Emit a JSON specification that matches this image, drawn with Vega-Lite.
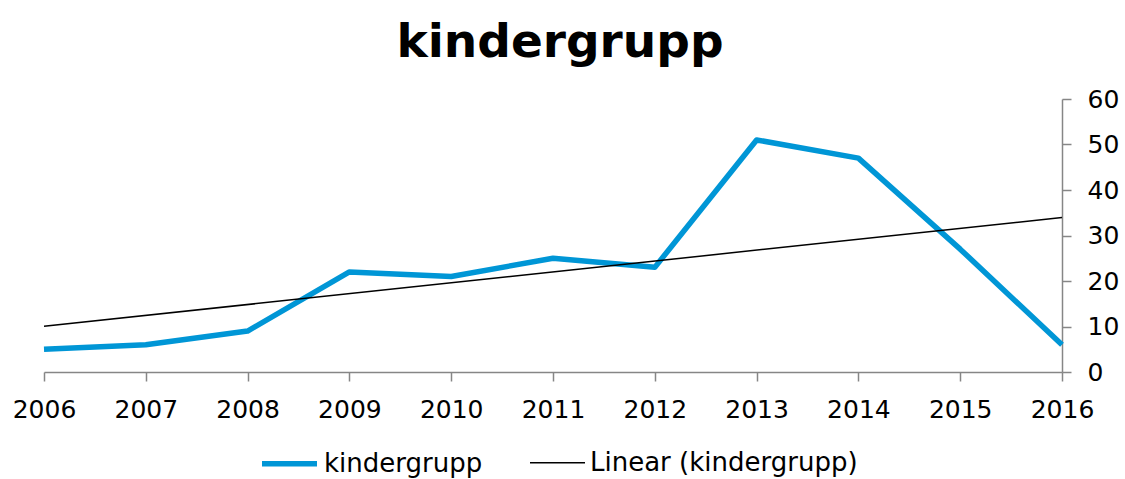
{
  "$schema": "https://vega.github.io/schema/vega-lite/v6.json",
  "width": 1018,
  "height": 273,
  "autosize": {"type": "none"},
  "padding": {"left": 44, "top": 99, "right": 63, "bottom": 107},
  "background": "white",
  "title": {
    "text": "kindergrupp",
    "font": "DejaVu Sans",
    "fontSize": 47,
    "fontWeight": "bold",
    "color": "#000000",
    "anchor": "middle",
    "dx": 7,
    "offset": 20
  },
  "data": {
    "values": [
      {"year": 2006, "value": 5, "series": "kindergrupp"},
      {"year": 2007, "value": 6, "series": "kindergrupp"},
      {"year": 2008, "value": 9, "series": "kindergrupp"},
      {"year": 2009, "value": 22, "series": "kindergrupp"},
      {"year": 2010, "value": 21, "series": "kindergrupp"},
      {"year": 2011, "value": 25, "series": "kindergrupp"},
      {"year": 2012, "value": 23, "series": "kindergrupp"},
      {"year": 2013, "value": 51, "series": "kindergrupp"},
      {"year": 2014, "value": 47, "series": "kindergrupp"},
      {"year": 2015, "value": 27, "series": "kindergrupp"},
      {"year": 2016, "value": 6, "series": "kindergrupp"},
      {"year": 2006, "value": 10.05, "series": "Linear (kindergrupp)"},
      {"year": 2016, "value": 33.95, "series": "Linear (kindergrupp)"}
    ]
  },
  "mark": {"type": "line", "strokeCap": "butt", "strokeJoin": "round"},
  "encoding": {
    "x": {
      "field": "year",
      "type": "quantitative",
      "scale": {"domain": [2006, 2016], "nice": false, "zero": false},
      "axis": {
        "title": null,
        "values": [2006, 2007, 2008, 2009, 2010, 2011, 2012, 2013, 2014, 2015, 2016],
        "format": "d",
        "grid": false,
        "domainColor": "#868686",
        "domainWidth": 1.5,
        "tickColor": "#868686",
        "tickWidth": 1.5,
        "tickSize": 9,
        "labelFont": "DejaVu Sans",
        "labelFontSize": 25,
        "labelColor": "#000000",
        "labelPadding": 16,
        "labelFlush": false,
        "labelOverlap": false
      }
    },
    "y": {
      "field": "value",
      "type": "quantitative",
      "scale": {"domain": [0, 60], "nice": false},
      "axis": {
        "title": null,
        "orient": "right",
        "values": [0, 10, 20, 30, 40, 50, 60],
        "grid": false,
        "domainColor": "#868686",
        "domainWidth": 1.5,
        "tickColor": "#868686",
        "tickWidth": 1.5,
        "tickSize": 9,
        "labelFont": "DejaVu Sans",
        "labelFontSize": 25,
        "labelColor": "#000000",
        "labelPadding": 16,
        "labelFlush": false,
        "labelOverlap": false
      }
    },
    "color": {
      "field": "series",
      "type": "nominal",
      "scale": {"domain": ["kindergrupp", "Linear (kindergrupp)"], "range": ["#0096D6", "#000000"]},
      "legend": {
        "title": null,
        "orient": "none",
        "direction": "horizontal",
        "legendX": 215,
        "legendY": 334,
        "symbolType": "stroke",
        "symbolSize": 3025,
        "labelFont": "DejaVu Sans",
        "labelFontSize": 26,
        "labelColor": "#000000",
        "labelOffset": 4,
        "columnPadding": 44,
        "labelLimit": 400
      }
    },
    "strokeWidth": {
      "field": "series",
      "type": "nominal",
      "scale": {"domain": ["kindergrupp", "Linear (kindergrupp)"], "range": [5.5, 1.5]},
      "legend": {
        "title": null,
        "orient": "none",
        "direction": "horizontal",
        "legendX": 215,
        "legendY": 334,
        "symbolType": "stroke",
        "symbolSize": 3025,
        "labelFont": "DejaVu Sans",
        "labelFontSize": 26,
        "labelColor": "#000000",
        "labelOffset": 4,
        "columnPadding": 44,
        "labelLimit": 400
      }
    }
  },
  "config": {"view": {"stroke": null}}
}
